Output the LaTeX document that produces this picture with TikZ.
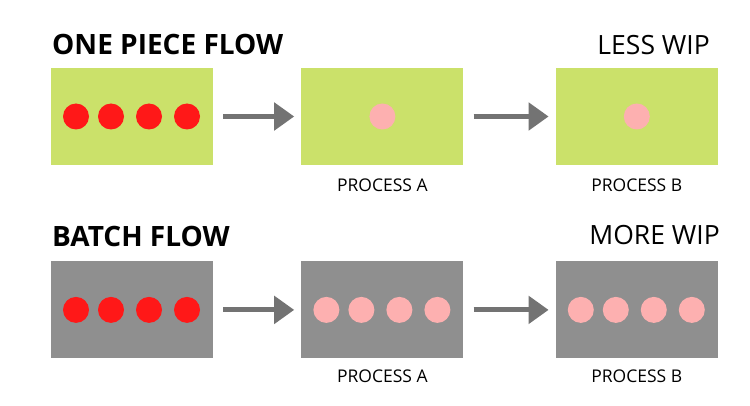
\documentclass[tikz,border=0pt]{standalone}
\usepackage{fontspec}
\setmainfont{Open Sans}
\usetikzlibrary{positioning,calc,arrows.meta}

\definecolor{leangreen}{RGB}{203,225,106}
\definecolor{batchgrey}{RGB}{143,143,143}
\definecolor{arrowgrey}{RGB}{115,115,115}
\definecolor{partred}{RGB}{255,24,24}
\definecolor{partpink}{RGB}{253,176,176}

\tikzstyle{station}=[minimum width=162pt, minimum height=97pt, inner sep=0pt]
\tikzstyle{lean}=[station, fill=leangreen]
\tikzstyle{batch}=[station, fill=batchgrey]
\tikzstyle{part}=[circle, minimum size=26pt, inner sep=0pt]
\tikzstyle{waiting}=[part, fill=partred]
\tikzstyle{done}=[part, fill=partpink]
\tikzstyle{flow}=[arrowgrey, line width=5pt, -{Triangle[length=20pt,width=27pt]}, shorten <=10pt, shorten >=7pt]
\tikzstyle{title}=[font={\bfseries\fontsize{28}{30}\selectfont}, inner sep=0pt, anchor=base west]
\tikzstyle{wip}=[font={\fontsize{26.5}{29}\selectfont}, inner sep=0pt, anchor=base east]
\tikzstyle{caption}=[font={\fontsize{17.5}{20}\selectfont}, inner sep=0pt, anchor=base]

\begin{document}
\begin{tikzpicture}[x=1pt, y=-1pt]
    \useasboundingbox [fill=white] (0,0) rectangle (750,406);

    % one piece flow
    \node [lean] (op0) at (132,116.5) {};
    \node [lean, right=88pt of op0] (opA) {};
    \node [lean, right=92pt of opA] (opB) {};

    % batch flow
    \node [batch, below=96pt of op0] (bt0) {};
    \node [batch, right=88pt of bt0] (btA) {};
    \node [batch, right=92pt of btA] (btB) {};

    % parts
    \foreach \dx [count=\i] in {-56,-21,17,55} {
        \node [waiting] (op0-\i) at ($(op0.center)+(\dx,0)$) {};
        \node [waiting] (bt0-\i) at ($(bt0.center)+(\dx,0)$) {};
        \node [done] (btA-\i) at ($(btA.center)+(\dx,0)$) {};
        \node [done] (btB-\i) at ($(btB.center)+(\dx,0)$) {};
    }
    \node [done] (opA-1) at (opA.center) {};
    \node [done] (opB-1) at (opB.center) {};

    % arrows
    \draw [flow] (op0.east) -- (opA.west);
    \draw [flow] (opA.east) -- (opB.west);
    \draw [flow] (bt0.east) -- (btA.west);
    \draw [flow] (btA.east) -- (btB.west);

    % texts
    \node [title] (optitle) at (52,55) {ONE PIECE FLOW};
    \node [wip] (opwip) at (710,55) {LESS WIP};
    \node [title] (bttitle) at (52,247) {BATCH FLOW};
    \node [wip] (btwip) at (720,245) {MORE WIP};
    \node [caption] (opAcap) at ($(opA.south)+(0,26)$) {PROCESS A};
    \node [caption] (opBcap) at ($(opB.south)+(0,26)$) {PROCESS B};
    \node [caption] (btAcap) at ($(btA.south)+(0,24)$) {PROCESS A};
    \node [caption] (btBcap) at ($(btB.south)+(0,24)$) {PROCESS B};
\end{tikzpicture}
\end{document}
